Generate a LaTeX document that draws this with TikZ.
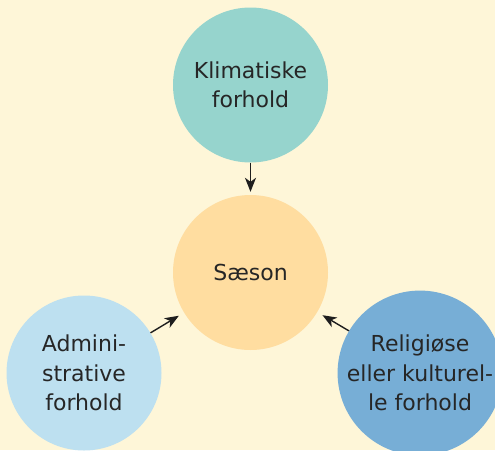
\documentclass[tikz,border=0pt]{standalone}
\usepackage{fontspec}
\setmainfont{DejaVu Sans}
\usetikzlibrary{arrows.meta}
\definecolor{bg}{HTML}{FEF6D8}
\definecolor{cteal}{HTML}{96D4CD}
\definecolor{corange}{HTML}{FFDDA0}
\definecolor{clblue}{HTML}{BDE0F0}
\definecolor{cblue}{HTML}{77AED6}
\definecolor{ctext}{HTML}{262626}
\definecolor{carrow}{HTML}{1E1E1E}
\tikzset{
  bubble/.style={circle, minimum size=155pt, inner sep=0pt, text=ctext,
    align=center, font=\fontsize{22pt}{29.5pt}\selectfont},
  conn/.style={draw=carrow, line width=1.4pt, -{Stealth[length=14pt,width=11pt,inset=4pt]}}
}
\begin{document}
\begin{tikzpicture}[x=1pt,y=-1pt]
\useasboundingbox (0,0) rectangle (495,450);
\clip (0,0) rectangle (495,450);
\fill[bg] (0,0) rectangle (495,450);
\node[bubble, fill=cteal] (klima) at (250.5,85) {Klimatiske\\forhold};
\node[bubble, fill=corange] (saeson) at (250.5,272.5) {Sæson};
\node[bubble, fill=clblue] (admin) at (84,373) {Admini-\\strative\\forhold};
\node[bubble, fill=cblue] (relig) at (420,373) {Religiøse\\eller kulturel-\\le forhold};
\draw[conn, shorten >=3pt] (klima) -- (saeson);
\draw[conn, shorten >=6pt] (admin) -- (saeson);
\draw[conn, shorten >=6pt] (relig) -- (saeson);
\end{tikzpicture}
\end{document}
